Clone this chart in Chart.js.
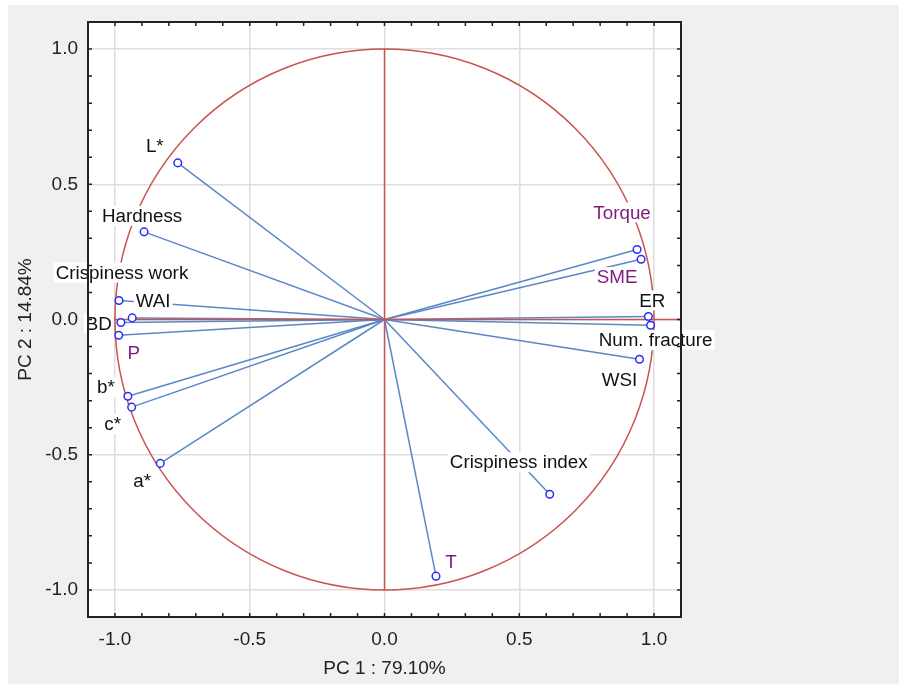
<!DOCTYPE html>
<html>
<head>
<meta charset="utf-8">
<script src="https://cdn.jsdelivr.net/npm/chart.js@4"></script>
<style>
  body { margin: 0; background: #ffffff; }
  #pca { position: absolute; left: 8px; top: 5px; background: #f0f0f0; }
</style>
</head>
<body>
<canvas id="pca" width="891" height="679"></canvas>
<script>
// variable loadings on the first two components
let names = ["L*", "Hardness", "Crispiness work", "WAI", "BD", "P", "b*", "c*", "a*",
    "Torque", "SME", "ER", "Num. fracture", "WSI", "Crispiness index", "T"];
let pc1 = [-0.767, -0.892, -0.985, -0.936, -0.978, -0.986, -0.952, -0.938, -0.832,
    0.937, 0.952, 0.979, 0.987, 0.946, 0.613, 0.191];
let pc2 = [0.579, 0.324, 0.070, 0.006, -0.011, -0.058, -0.284, -0.324, -0.532,
    0.259, 0.223, 0.011, -0.021, -0.147, -0.646, -0.949];
let axisTicks = [-1.0, -0.5, 0.0, 0.5, 1.0];

// label placement (pixels from the point) and colours
let labelOffsets = {
    "L*": [-23, -17], "Hardness": [-2, -16], "Crispiness work": [3, -28], "WAI": [21, -17],
    "BD": [-22, 1], "P": [15, 18], "b*": [-22, -9], "c*": [-19, 17], "a*": [-18, 17],
    "Torque": [-15, -37], "SME": [-24, 18], "ER": [4, -16], "Num. fracture": [5, 15],
    "WSI": [-20, 21], "Crispiness index": [-31, -32], "T": [15, -14]
};
let purple = ["Torque", "SME", "P", "T"];

let red = '#c9544f';
let blueLine = '#5a88c6';
let font = "'Liberation Sans', Arial, sans-serif";

let datasets = [];
names.forEach((name, i) => {
    datasets.push({
        data: [{x: 0, y: 0}, {x: pc1[i], y: pc2[i]}],
        showLine: true,
        borderColor: blueLine,
        borderWidth: 1.5,
        pointRadius: 0,
        order: 3
    });
});
datasets.push({
    data: [{x: -1.1, y: 0}, {x: 1.1, y: 0}],
    showLine: true, borderColor: red, borderWidth: 1.5, pointRadius: 0, order: 2
});
datasets.push({
    data: [{x: 0, y: -1}, {x: 0, y: 1}],
    showLine: true, borderColor: red, borderWidth: 1.5, pointRadius: 0, order: 2
});
datasets.push({
    data: names.map((n, i) => ({x: pc1[i], y: pc2[i]})),
    showLine: false,
    pointRadius: 3.8,
    pointBorderWidth: 1.5,
    pointBorderColor: '#2b2bff',
    pointBackgroundColor: '#ffffff',
    order: 1
});

let plotBg = {
    id: 'plotBg',
    beforeDraw(chart) {
        let a = chart.chartArea;
        chart.ctx.save();
        chart.ctx.fillStyle = '#ffffff';
        chart.ctx.fillRect(a.left, a.top, a.right - a.left, a.bottom - a.top);
        chart.ctx.restore();
    },
    beforeDatasetsDraw(chart) {
        // unit circle of correlations
        let xs = chart.scales.x, ys = chart.scales.y, ctx = chart.ctx;
        let cx = xs.getPixelForValue(0), cy = ys.getPixelForValue(0);
        let rx = xs.getPixelForValue(1) - cx, ry = cy - ys.getPixelForValue(1);
        ctx.save();
        ctx.strokeStyle = red;
        ctx.lineWidth = 1.5;
        ctx.beginPath();
        ctx.ellipse(cx, cy, rx, ry, 0, 0, Math.PI * 2);
        ctx.stroke();
        ctx.restore();
    },
    afterDatasetsDraw(chart) {
        let xs = chart.scales.x, ys = chart.scales.y, ctx = chart.ctx;
        ctx.save();
        ctx.font = "18.8px " + font;
        ctx.textAlign = 'center';
        ctx.textBaseline = 'middle';
        names.forEach((name, i) => {
            let off = labelOffsets[name];
            let px = xs.getPixelForValue(pc1[i]) + off[0];
            let py = ys.getPixelForValue(pc2[i]) + off[1];
            let w = ctx.measureText(name).width;
            ctx.fillStyle = '#ffffff';
            ctx.fillRect(px - w / 2 - 2, py - 10, w + 4, 20);
            ctx.fillStyle = purple.includes(name) ? '#7d1a7d' : '#111111';
            ctx.fillText(name, px, py + 1);
        });
        ctx.restore();
    },
    afterDraw(chart) {
        let a = chart.chartArea, ctx = chart.ctx;
        let xs = chart.scales.x, ys = chart.scales.y;
        ctx.save();
        ctx.strokeStyle = '#222222';
        ctx.lineWidth = 2;
        ctx.strokeRect(a.left, a.top, a.right - a.left, a.bottom - a.top);
        ctx.lineWidth = 1.5;
        ctx.beginPath();
        for (let k = -10; k <= 10; k++) {
            let px = xs.getPixelForValue(k / 10);
            ctx.moveTo(px, a.bottom); ctx.lineTo(px, a.bottom - 4);
            ctx.moveTo(px, a.top); ctx.lineTo(px, a.top + 4);
            let py = ys.getPixelForValue(k / 10);
            ctx.moveTo(a.left, py); ctx.lineTo(a.left + 4, py);
            ctx.moveTo(a.right, py); ctx.lineTo(a.right - 4, py);
        }
        ctx.stroke();
        ctx.restore();
    }
};

function fixedTicks(scale) {
    scale.ticks = axisTicks.map(v => ({value: v}));
}

new Chart(document.getElementById('pca'), {
    type: 'scatter',
    data: {datasets: datasets},
    plugins: [plotBg],
    options: {
        responsive: false,
        animation: false,
        layout: {padding: {left: 0, top: 17, right: 218, bottom: 0}},
        plugins: {
            legend: {display: false},
            tooltip: {enabled: false}
        },
        scales: {
            x: {
                type: 'linear',
                min: -1.1,
                max: 1.1,
                afterBuildTicks: fixedTicks,
                afterFit(scale) {
                    scale.height = 67;
                    scale.paddingLeft = 0;
                    scale.paddingRight = 0;
                },
                grid: {color: '#dedede', lineWidth: 1.5, drawTicks: false},
                border: {display: false},
                ticks: {
                    padding: 11,
                    color: '#222222',
                    font: {size: 19, family: font},
                    callback: v => v.toFixed(1)
                },
                title: {
                    display: true,
                    text: 'PC 1 : 79.10%',
                    color: '#222222',
                    font: {size: 19, family: font},
                    padding: {top: 0, bottom: 4}
                }
            },
            y: {
                type: 'linear',
                min: -1.1,
                max: 1.1,
                afterBuildTicks: fixedTicks,
                afterFit(scale) {
                    scale.width = 80;
                    scale.paddingTop = 0;
                    scale.paddingBottom = 0;
                },
                grid: {color: '#dedede', lineWidth: 1.5, drawTicks: false},
                border: {display: false},
                ticks: {
                    padding: 10,
                    color: '#222222',
                    font: {size: 19, family: font},
                    callback: v => v.toFixed(1)
                },
                title: {
                    display: true,
                    text: 'PC 2 : 14.84%',
                    color: '#222222',
                    font: {size: 19, family: font},
                    padding: {top: 6, bottom: 0}
                }
            }
        }
    }
});
</script>
</body>
</html>
